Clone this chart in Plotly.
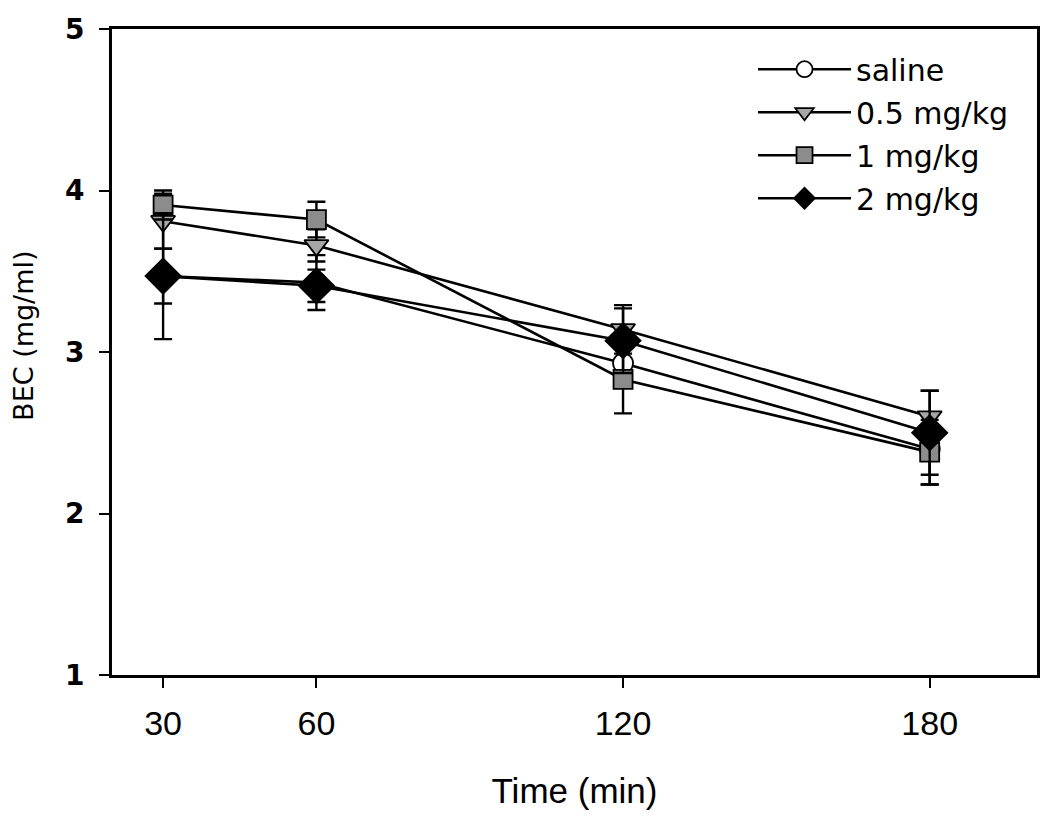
import plotly.graph_objects as go

time_min = [30, 60, 120, 180]

series_names = ["saline", "0.5 mg/kg", "1 mg/kg", "2 mg/kg"]
saline = [3.47, 3.43, 2.93, 2.40]
saline_err = [0.17, 0.17, 0.15, 0.22]
dose_05 = [3.81, 3.66, 3.14, 2.60]
dose_05_err = [0.17, 0.10, 0.15, 0.16]
dose_1 = [3.91, 3.82, 2.83, 2.38]
dose_1_err = [0.09, 0.11, 0.21, 0.20]
dose_2 = [3.47, 3.41, 3.07, 2.50]
dose_2_err = [0.39, 0.10, 0.20, 0.26]

y_ticks = [1, 2, 3, 4, 5]
x_title = "Time (min)"
y_title = "BEC (mg/ml)"

styles = [
    dict(symbol="circle", color="white", size=20),
    dict(symbol="triangle-down", color="#a6a6a6", size=21),
    dict(symbol="square", color="#8c8c8c", size=19),
    dict(symbol="diamond", color="black", size=27),
]
values = [saline, dose_05, dose_1, dose_2]
errors = [saline_err, dose_05_err, dose_1_err, dose_2_err]

WIDE = "DejaVu Sans, Liberation Sans, Arial, sans-serif"
ARIAL = "Liberation Sans, Arial, sans-serif"

fig = go.Figure()
for i, (name, vals, errs, st) in enumerate(zip(series_names, values, errors, styles)):
    fig.add_trace(go.Scatter(
        x=time_min, y=vals, name=name, mode="lines+markers",
        legendgroup=f"g{i}",
        line=dict(color="black", width=2.6),
        marker=dict(symbol=st["symbol"], size=st["size"], color=st["color"],
                    line=dict(color="black", width=1.8)),
        error_y=dict(type="data", array=errs, visible=True, color="black",
                     thickness=2.4, width=9),
    ))

# page body has an 8px default margin, so the figure is sized to fit inside it
fig.update_layout(
    width=1034, height=803,
    margin=dict(l=104, r=5, t=21, b=136),
    paper_bgcolor="white", plot_bgcolor="white",
    font=dict(family=WIDE, size=29, color="black"),
    showlegend=True,
    legend=dict(x=0.693, y=0.978, xanchor="left", yanchor="top",
                bgcolor="rgba(0,0,0,0)", font=dict(size=30, family=WIDE),
                itemwidth=93, traceorder="grouped", tracegroupgap=1),
)
fig.update_xaxes(
    range=[20, 201], tickvals=time_min, ticktext=[str(t) for t in time_min],
    showline=True, linecolor="black", linewidth=3, mirror=True,
    ticks="outside", ticklen=10, tickwidth=2, tickcolor="black",
    showgrid=False, zeroline=False, automargin=False,
    tickfont=dict(size=34, family=ARIAL), ticklabelstandoff=6,
    title=dict(text=x_title, font=dict(size=35, family=ARIAL), standoff=38),
)
fig.update_yaxes(
    range=[1, 5], tickvals=y_ticks, ticktext=[f"<b>{v}</b>" for v in y_ticks],
    showline=True, linecolor="black", linewidth=3, mirror=True,
    ticks="outside", ticklen=10, tickwidth=2, tickcolor="black",
    showgrid=False, zeroline=False, automargin=False,
    tickfont=dict(size=28, family=WIDE), ticklabelstandoff=9,
)
fig.add_annotation(
    text=y_title, textangle=-90, xref="paper", yref="paper",
    x=-0.0951, y=0.525, xanchor="center", yanchor="middle",
    showarrow=False, font=dict(size=27, family=WIDE, color="black"),
)

fig.write_html("out.html")
